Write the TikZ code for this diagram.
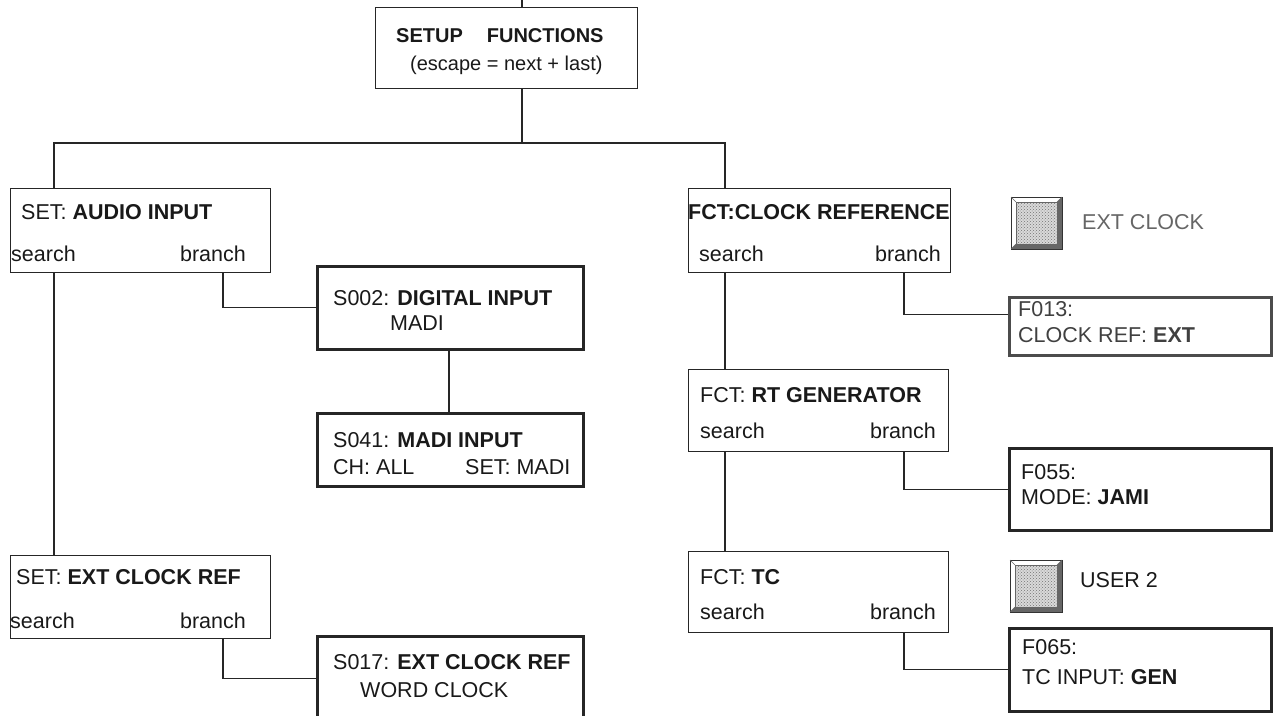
\documentclass[tikz,border=0pt]{standalone}
\usepackage{fontspec}
\setmainfont{Liberation Sans}
\usetikzlibrary{patterns}
\begin{document}
\begin{tikzpicture}[x=1pt,y=-1pt,
  box/.style={draw=black!85, line width=1.2pt, inner sep=0pt, anchor=north west, rectangle},
  heavy/.style={box, line width=2.6pt},
  wire/.style={draw=black!85, line width=1.2pt},
  txt/.style={inner sep=0pt, text=black!90, font=\fontsize{21.5}{25}\selectfont},
  ttl/.style={txt, font=\fontsize{20}{24}\selectfont}]
\useasboundingbox (0,0) rectangle (1274,715);

% boxes
\node[box, minimum width=262pt, minimum height=81pt] (topbox) at (375,7) {};
\node[box, minimum width=260pt, minimum height=84pt] (audio) at (10,188) {};
\node[heavy, minimum width=266pt, minimum height=83pt] (digital) at (316,265) {};
\node[heavy, minimum width=266pt, minimum height=73pt] (madi) at (316,412) {};
\node[box, minimum width=260pt, minimum height=83pt] (extref) at (10,555) {};
\node[heavy, minimum width=266pt, minimum height=84pt] (s017) at (316,635) {};
\node[box, minimum width=262pt, minimum height=84pt] (clockref) at (688,188) {};
\node[heavy, draw=black!70, minimum width=262pt, minimum height=58pt] (f013) at (1008,296) {};
\node[box, minimum width=260pt, minimum height=82pt] (rtgen) at (688,369) {};
\node[heavy, minimum width=262pt, minimum height=82pt] (f055) at (1008,447) {};
\node[box, minimum width=260pt, minimum height=81pt] (tc) at (688,551) {};
\node[heavy, minimum width=262pt, minimum height=83pt] (f065) at (1008,627) {};

% texts
\node[ttl, anchor=base west] (t1) at (396,42) {\textbf{SETUP\hspace{24pt}FUNCTIONS}};
\node[ttl, anchor=base west] (t2) at (410,70) {(escape = next + last)};

\node[txt, anchor=base west] (a1) at (21,219) {SET: \textbf{AUDIO INPUT}};
\node[txt, anchor=base west] (a2) at (11,261) {search};
\node[txt, anchor=base east] (a3) at (246,261) {branch};

\node[txt, anchor=base west] (d1) at (333,305) {S002: \textbf{DIGITAL INPUT}};
\node[txt, anchor=base west] (d2) at (390,330) {MADI};

\node[txt, anchor=base west] (m1) at (333,447) {S041: \textbf{MADI INPUT}};
\node[txt, anchor=base west] (m2) at (333,474) {CH: ALL};
\node[txt, anchor=base west] (m3) at (465,474) {SET: MADI};

\node[txt, anchor=base west] (e1) at (16,584) {SET: \textbf{EXT CLOCK REF}};
\node[txt, anchor=base west] (e2) at (10,628) {search};
\node[txt, anchor=base east] (e3) at (246,628) {branch};

\node[txt, anchor=base west] (s1) at (333,669) {S017: \textbf{EXT CLOCK REF}};
\node[txt, anchor=base west] (s2) at (360,697) {WORD CLOCK};

\node[txt, anchor=base west] (c1) at (688,219) {\textbf{FCT:CLOCK REFERENCE}};
\node[txt, anchor=base west] (c2) at (699,261) {search};
\node[txt, anchor=base east] (c3) at (941,261) {branch};

\node[txt, anchor=base west, text=black!75] (f1) at (1018,316) {F013:};
\node[txt, anchor=base west, text=black!75] (f2) at (1018,342) {CLOCK REF: \textbf{EXT}};

\node[txt, anchor=base west] (r1) at (700,402) {FCT: \textbf{RT GENERATOR}};
\node[txt, anchor=base west] (r2) at (700,438) {search};
\node[txt, anchor=base east] (r3) at (936,438) {branch};

\node[txt, anchor=base west] (g1) at (1021,479) {F055:};
\node[txt, anchor=base west] (g2) at (1021,504) {MODE: \textbf{JAMI}};

\node[txt, anchor=base west] (u1) at (700,584) {FCT: \textbf{TC}};
\node[txt, anchor=base west] (u2) at (700,619) {search};
\node[txt, anchor=base east] (u3) at (936,619) {branch};

\node[txt, anchor=base west] (h1) at (1022,654) {F065:};
\node[txt, anchor=base west] (h2) at (1022,684) {TC INPUT: \textbf{GEN}};

\node[txt, anchor=base west, text=black!60] (k1) at (1082,229) {EXT CLOCK};
\node[txt, anchor=base west] (k2) at (1080,587) {USER 2};

% key caps
\fill[black!60] (1062,197) -- (1062,249) -- (1011,249) -- (1016,244) -- (1057,244) -- (1057,202) -- cycle;
\fill[gray!30] (1016,202) rectangle (1057,244);
\fill[pattern=crosshatch dots, pattern color=black!55] (1016,202) rectangle (1057,244);
\draw[black!80, line width=0.8pt] (1011,197) rectangle (1062,249);
\draw[black!60, line width=0.5pt] (1016,202) rectangle (1057,244);
\draw[black!60, line width=0.5pt] (1011,197) -- (1016,202) (1062,197) -- (1057,202) (1011,249) -- (1016,244);

\fill[black!60] (1062,560) -- (1062,612) -- (1010,612) -- (1015,607) -- (1057,607) -- (1057,565) -- cycle;
\fill[gray!30] (1015,565) rectangle (1057,607);
\fill[pattern=crosshatch dots, pattern color=black!55] (1015,565) rectangle (1057,607);
\draw[black!80, line width=0.8pt] (1010,560) rectangle (1062,612);
\draw[black!60, line width=0.5pt] (1015,565) rectangle (1057,607);
\draw[black!60, line width=0.5pt] (1010,560) -- (1015,565) (1062,560) -- (1057,565) (1010,612) -- (1015,607);

% guides
\coordinate (in) at (522,-10);
\coordinate (hub) at (522,143);
\coordinate (gA) at (54,0);
\coordinate (gAb) at (223,0);
\coordinate (gD) at (449,0);
\coordinate (gC) at (725,0);
\coordinate (gCb) at (904,0);

% connectors
\draw[wire] (in) -- (in |- topbox.north);
\draw[wire] (in |- topbox.south) -- (hub);
\draw[wire] (gA |- audio.north) -- (gA |- hub) -- (gC |- hub) -- (gC |- clockref.north);
\draw[wire] (gA |- audio.south) -- (gA |- extref.north);
\draw[wire] (gAb |- audio.south) |- (digital.west);
\draw[wire] (gD |- digital.south) -- (gD |- madi.north);
\draw[wire] (gAb |- extref.south) |- (s017.west);
\draw[wire] (gC |- clockref.south) -- (gC |- rtgen.north);
\draw[wire] (gCb |- clockref.south) |- ([yshift=12pt]f013.west);
\draw[wire] (gCb |- rtgen.south) |- (f055.west);
\draw[wire] (gC |- rtgen.south) -- (gC |- tc.north);
\draw[wire] (gCb |- tc.south) |- (f065.west);
\end{tikzpicture}
\end{document}
